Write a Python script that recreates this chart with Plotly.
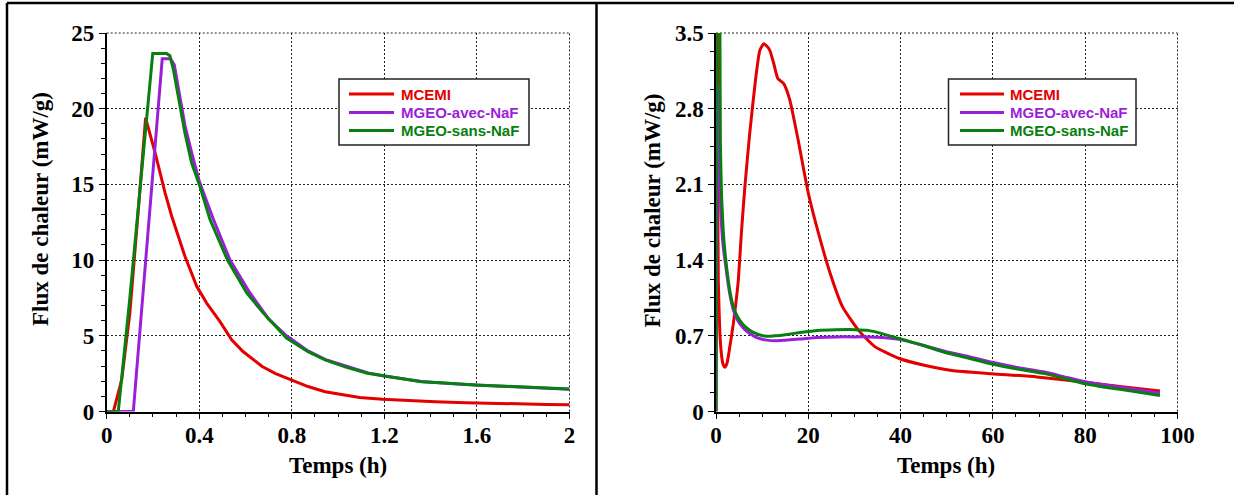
import plotly.graph_objects as go

# ---------------- data (left panel: 0-2 h) ----------------
left_red_t = [0, 0.029, 0.065, 0.1, 0.135, 0.168, 0.209, 0.252, 0.281, 0.338, 0.389, 0.432, 0.489, 0.54,
              0.589, 0.63, 0.672, 0.73, 0.796, 0.87, 0.944, 1.02, 1.093, 1.192, 1.3, 1.42, 1.55, 1.7, 1.85, 1.9, 2.0]
left_red_v = [0, 0, 2.1, 6.5, 13.0, 19.4, 17.1, 14.45, 12.9, 10.25, 8.27, 7.16, 5.95, 4.74,
              3.96, 3.45, 2.97, 2.5, 2.09, 1.65, 1.31, 1.1, 0.92, 0.81, 0.72, 0.64, 0.58, 0.55, 0.53, 0.47, 0.45]

left_purple_t = [0, 0.115, 0.24, 0.276, 0.292, 0.31, 0.338, 0.367, 0.4, 0.461, 0.533, 0.619, 0.7, 0.777,
                 0.87, 0.95, 1.05, 1.13, 1.2, 1.36, 1.6, 1.8, 2.0]
left_purple_v = [0, 0, 23.3, 23.3, 22.9, 21.3, 18.9, 17.1, 15.2, 12.7, 10.0, 7.83, 6.1, 5.0,
                 4.0, 3.4, 2.9, 2.55, 2.35, 1.98, 1.74, 1.6, 1.47]

left_green_t = [0, 0.05, 0.1, 0.199, 0.259, 0.273, 0.288, 0.317, 0.338, 0.367, 0.4, 0.446, 0.522, 0.605,
                0.677, 0.777, 0.87, 0.944, 1.03, 1.126, 1.2, 1.36, 1.6, 1.8, 2.0]
left_green_v = [0, 0, 7.5, 23.65, 23.65, 23.5, 22.6, 20.2, 18.4, 16.4, 15.0, 12.7, 10.0, 7.83,
                6.5, 4.85, 3.95, 3.41, 2.95, 2.53, 2.35, 1.97, 1.75, 1.6, 1.49]

# ---------------- data (right panel: 0-100 h) ----------------
right_red_t = [0, 0.15, 0.3, 0.4, 0.5, 0.7, 0.87, 1.2, 1.5, 1.95, 2.4, 3.0, 3.75, 4.3, 4.83, 5.5, 6.3, 7.3,
               8.6, 9.5, 10.35, 11.0, 11.66, 12.5, 13.4, 14.7, 16.0, 17.8, 20.0, 22.2, 24.8, 27.4, 30.9,
               34.4, 39.7, 44.9, 51.1, 59.8, 69.5, 80, 88, 96.2]
right_red_v = [0, 8.0, 3.6, 2.0, 1.21, 0.9, 0.70, 0.52, 0.44, 0.41, 0.45, 0.6, 0.81, 1.0, 1.21, 1.65, 2.1, 2.57,
               3.08, 3.34, 3.40, 3.38, 3.34, 3.22, 3.08, 3.03, 2.88, 2.51, 2.02, 1.65, 1.27, 0.97, 0.75,
               0.60, 0.49, 0.43, 0.38, 0.35, 0.32, 0.27, 0.23, 0.19]

right_purple_t = [0, 0.4, 0.7, 1.0, 1.5, 2.0, 2.67, 3.2, 3.75, 4.5, 5.2, 6.2, 7.4, 9, 11, 13, 15, 18.2, 22, 26,
                  30, 33, 36, 40, 45, 49.3, 55, 59.8, 65, 71.2, 76, 80, 85, 90, 96.2]
right_purple_v = [0, 3.0, 2.5, 1.9, 1.55, 1.38, 1.17, 1.04, 0.94, 0.86, 0.81, 0.76, 0.72, 0.68, 0.66, 0.655,
                  0.66, 0.67, 0.685, 0.69, 0.69, 0.69, 0.685, 0.665, 0.61, 0.56, 0.505, 0.455, 0.41, 0.365,
                  0.315, 0.275, 0.24, 0.21, 0.17]

right_green_t = [0, 0.3, 0.6, 0.85, 0.95, 1.2, 1.6, 2.0, 2.67, 3.2, 3.75, 4.5, 5.2, 6.2, 7.4, 9, 11, 13, 15,
                 18.2, 22, 26, 30, 33, 36, 40, 45, 49.3, 55, 59.8, 65, 71.2, 76, 80, 85, 90, 96.2]
right_green_v = [0, 12, 6, 3.6, 2.5, 2.0, 1.65, 1.45, 1.21, 1.07, 0.97, 0.89, 0.84, 0.79, 0.75, 0.715, 0.695,
                 0.70, 0.71, 0.73, 0.75, 0.756, 0.757, 0.75, 0.72, 0.67, 0.61, 0.55, 0.49, 0.44, 0.395, 0.35,
                 0.30, 0.256, 0.22, 0.19, 0.148]

series_names = ["MCEMI", "MGEO-avec-NaF", "MGEO-sans-NaF"]

left_xticks = [0, 0.4, 0.8, 1.2, 1.6, 2]
left_xticklabels = ["0", "0.4", "0.8", "1.2", "1.6", "2"]
left_yticks = [0, 5, 10, 15, 20, 25]
left_yticklabels = ["0", "5", "10", "15", "20", "25"]
right_xticks = [0, 20, 40, 60, 80, 100]
right_xticklabels = ["0", "20", "40", "60", "80", "100"]
right_yticks = [0, 0.7, 1.4, 2.1, 2.8, 3.5]
right_yticklabels = ["0", "0.7", "1.4", "2.1", "2.8", "3.5"]

x_title = "Temps (h)"
y_title = "Flux de chaleur (mW/g)"

# ---------------- style ----------------
colors = ["#e30000", "#9b1fd8", "#06800f"]
W, H = 1234, 495
serif = "Liberation Serif"
sans = "Liberation Sans"


def px_x(p):
    return p / W


def px_y(p):
    return 1 - p / H


fig = go.Figure()

left_series = [(left_red_t, left_red_v), (left_purple_t, left_purple_v), (left_green_t, left_green_v)]
right_series = [(right_red_t, right_red_v), (right_purple_t, right_purple_v), (right_green_t, right_green_v)]

for i, (t, v) in enumerate(left_series):
    fig.add_trace(go.Scatter(x=t, y=v, mode="lines", xaxis="x", yaxis="y",
                             line=dict(color=colors[i], width=3), name=series_names[i], showlegend=False))
for i, (t, v) in enumerate(right_series):
    fig.add_trace(go.Scatter(x=t, y=v, mode="lines", xaxis="x2", yaxis="y2",
                             line=dict(color=colors[i], width=3, shape="spline", smoothing=0.5),
                             name=series_names[i], showlegend=False))

tickfont = dict(family=serif, size=23, color="black", weight="bold")
common = dict(
    showline=True, linecolor="black", linewidth=1.5,
    ticks="outside", ticklen=6, tickwidth=1, tickcolor="black",
    showgrid=True, gridcolor="#222222", gridwidth=1, griddash="2px,2px",
    zeroline=False, tickfont=tickfont, mirror=False, fixedrange=True, automargin=False,
)
ydom = [px_y(411.5), px_y(33)]

fig.update_layout(
    width=W, height=H,
    margin=dict(l=0, r=0, t=0, b=0, pad=0, autoexpand=False),
    paper_bgcolor="white", plot_bgcolor="white",
    showlegend=False,
    xaxis=dict(domain=[px_x(106.7), px_x(569.5)], range=[0, 2], anchor="y",
               tickmode="array", tickvals=left_xticks, ticktext=left_xticklabels,
               minor=dict(dtick=0.1, ticklen=4, tickcolor="black", ticks="outside", showgrid=False),
               ticklabelstandoff=-4, **common),
    yaxis=dict(domain=ydom, range=[0, 25], anchor="x",
               tickmode="array", tickvals=left_yticks, ticktext=left_yticklabels,
               minor=dict(dtick=1, ticklen=4, tickcolor="black", ticks="outside", showgrid=False),
               ticklabelstandoff=0, **common),
    xaxis2=dict(domain=[px_x(716), px_x(1177.5)], range=[0, 100], anchor="y2",
                tickmode="array", tickvals=right_xticks, ticktext=right_xticklabels,
                minor=dict(dtick=5, ticklen=4, tickcolor="black", ticks="outside", showgrid=False),
                ticklabelstandoff=-4, **common),
    yaxis2=dict(domain=ydom, range=[0, 3.5], anchor="x2",
                tickmode="array", tickvals=right_yticks, ticktext=right_yticklabels,
                minor=dict(dtick=0.175, ticklen=4, tickcolor="black", ticks="outside", showgrid=False),
                ticklabelstandoff=0, **common),
)

title_font = dict(family=serif, size=23, color="black", weight="bold")
annots = [
    dict(x=px_x(338), y=px_y(465), text=x_title),
    dict(x=px_x(946), y=px_y(465), text=x_title),
    dict(x=px_x(40), y=px_y(209), text=y_title, textangle=-90),
    dict(x=px_x(651.5), y=px_y(211), text=y_title, textangle=-90),
]
for a in annots:
    fig.add_annotation(xref="paper", yref="paper", showarrow=False,
                       xanchor="center", yanchor="middle", font=title_font, **a)

# dotted border lines on top and right of each plot (grid at range ends)
dotted = dict(type="line", line=dict(color="#222222", width=1, dash="2px,2px"), layer="below")
for xr, yr in [("x domain", "y domain"), ("x2 domain", "y2 domain")]:
    fig.add_shape(xref=xr, yref=yr, x0=0, x1=1, y0=1, y1=1, **dotted)
    fig.add_shape(xref=xr, yref=yr, x0=1, x1=1, y0=0, y1=1, **dotted)

# legends (boxed, coloured labels)
legend_boxes = [
    dict(box=(339, 529, 79, 145), line=(349, 394), text_x=399),
    dict(box=(948.5, 1136, 79, 145), line=(960, 1004), text_x=1008),
]
row_y = [94, 112.5, 130.5]
for lg in legend_boxes:
    bx0, bx1, by0, by1 = lg["box"]
    fig.add_shape(type="rect", xref="paper", yref="paper",
                  x0=px_x(bx0), x1=px_x(bx1), y0=px_y(by1), y1=px_y(by0),
                  line=dict(color="#222222", width=1.5), fillcolor="white", layer="above")
    for i, name in enumerate(series_names):
        lx0, lx1 = lg["line"]
        fig.add_shape(type="line", xref="paper", yref="paper",
                      x0=px_x(lx0), x1=px_x(lx1), y0=px_y(row_y[i]), y1=px_y(row_y[i]),
                      line=dict(color=colors[i], width=3), layer="above")
        fig.add_annotation(xref="paper", yref="paper", x=px_x(lg["text_x"]), y=px_y(row_y[i]),
                           xanchor="left", yanchor="middle", showarrow=False, text=name,
                           font=dict(family=sans, size=15, color=colors[i], weight="bold"))

# outer table frame
frame = dict(type="line", xref="paper", yref="paper", line=dict(color="black", width=2.5))
fig.add_shape(x0=px_x(7), x1=1.0, y0=px_y(3), y1=px_y(3), **frame)
fig.add_shape(x0=px_x(7), x1=px_x(7), y0=0, y1=px_y(3), **frame)
fig.add_shape(x0=px_x(596.5), x1=px_x(596.5), y0=0, y1=px_y(3), **frame)

fig.write_html("out.html", config={"displayModeBar": False},
               post_script="document.body.style.margin='0';document.body.style.overflow='hidden';")
